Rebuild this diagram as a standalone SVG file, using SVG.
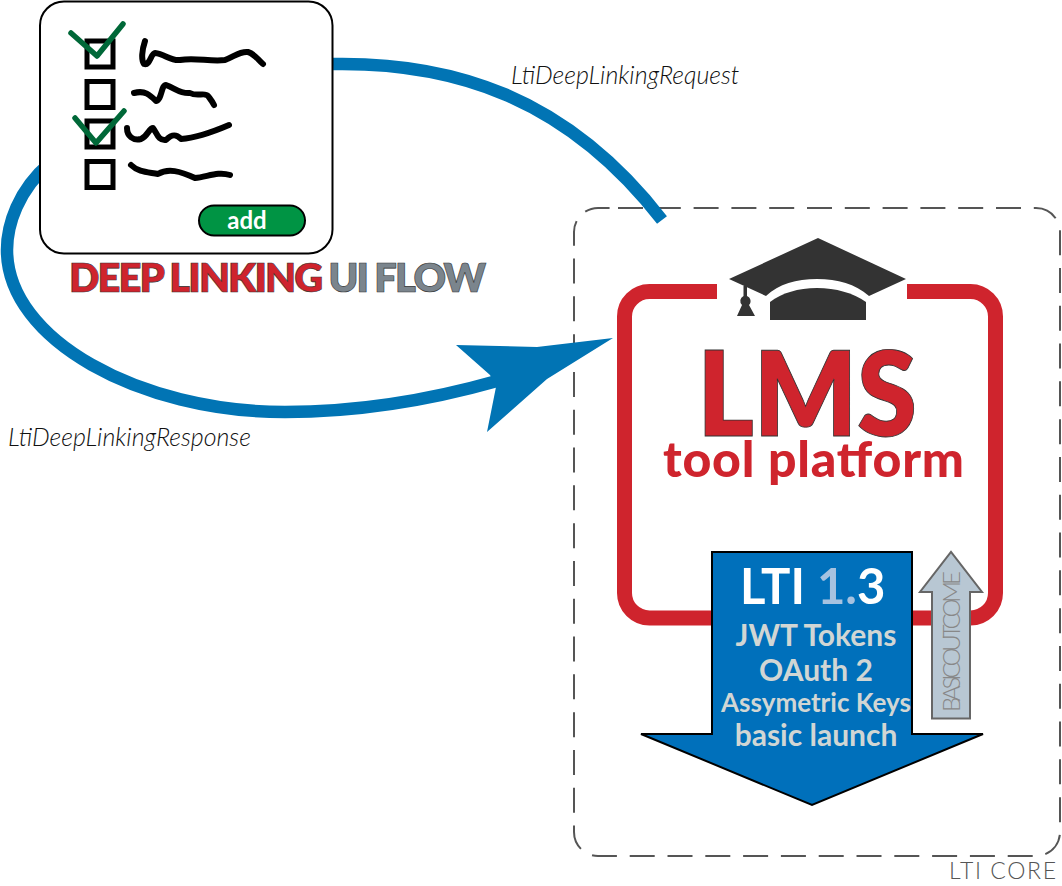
<svg xmlns="http://www.w3.org/2000/svg" width="1062" height="886" viewBox="0 0 1062 886">
<style>
text{font-family:Lato,"Liberation Sans",sans-serif}
.flow{fill:none;stroke:#0174b4;stroke-width:12.5}
.box{fill:none;stroke:#000;stroke-width:5}
.scr{fill:none;stroke:#000;stroke-width:6;stroke-linecap:round;stroke-linejoin:round}
.chk{fill:none;stroke:#006838;stroke-width:5.5;stroke-linecap:round;stroke-linejoin:round}
.lbl{font-size:25px;font-style:italic;font-weight:300;fill:#111}
.sub{fill:#d1d6d4;font-weight:700;text-anchor:middle}
</style>
<rect width="1062" height="886" fill="#fff"/>
<g id="lti-core">
<path d="M618 208H1036a24 24 0 0 1 24 24V832a24 24 0 0 1-24 24H598a24 24 0 0 1-24-24V232a24 24 0 0 1 24-24Z" fill="none" stroke="#555" stroke-width="2" stroke-dasharray="25 12.800"/>
<text x="949" y="879" font-size="23" font-weight="300" fill="#555" textLength="107">LTI CORE</text>
</g>
<g id="lms">
<path d="M717 291.500H649.500a25 25 0 0 0-25 25V593a25 25 0 0 0 25 25H970.500a25 25 0 0 0 25-25V316.500a25 25 0 0 0-25-25H907" fill="none" stroke="#cf242d" stroke-width="15"/>
<g fill="#333">
<path d="M818 238L906 279L869 296C855 284 838 279 817 279C796 279 779 284 766 296L729 279Z"/>
<path d="M770 302C782 293 798 288 817 288C836 288 853 293 866 302V320H770Z"/>
<path d="M743.500 286H747V296A5.500 5.500 0 0 1 749 305L755 316H737L742 305A5.500 5.500 0 0 1 743.500 296Z"/>
</g>
<text transform="translate(697.500 436) scale(1 1.09)" font-size="107.500" font-weight="800" fill="#cf242d" stroke="#333" stroke-width="0.8">LMS</text>
<text x="663" y="477" font-size="50" font-weight="900" fill="#cf242d" textLength="301">tool platform</text>
</g>
<g id="connectors">
<path class="flow" d="M333 64C450 62 565 95 662 220"/>
<path class="flow" d="M50 163C18 190 7 225 7 250C7 340 140 412 285 412C360 412 430 400 497 381"/>
<path fill="#0174b4" d="M456 345L537 347L613 338L547 379L487 432L496 387L490 375Z"/>
</g>
<g id="deep-linking-card">
<rect x="40" y="1.500" width="292.500" height="252" rx="24" fill="#fff" stroke="#000" stroke-width="2"/>
<rect class="box" x="87" y="41" width="26" height="26"/>
<rect class="box" x="87" y="81.500" width="26" height="26"/>
<rect class="box" x="87" y="121" width="26" height="26"/>
<rect class="box" x="87" y="161.500" width="26" height="26"/>
<path class="scr" d="M145 41C142 50 141 60 144 64C150 66 151 53 155 53C165 54 170 61 180 60C195 57 210 62 225 60C235 56 240 51 248 52C255 54 258 60 263 64"/>
<path class="scr" d="M134 93C145 90 150 95 156 101C162 100 161 85 166 85C175 88 180 94 190 93C197 97 205 92 208 96C211 100 212 101 214 105"/>
<path class="scr" d="M127 128C127 136 133 141 141 139C148 136 149 128 153 128C157 133 158 141 166 140C172 134 176 134 181 139C195 138 215 131 229 125"/>
<path class="scr" d="M131 165C138 172 148 172 158 174C168 168 180 171 195 178C207 177 218 171 230 175"/>
<path class="chk" d="M71 33L97 56L123 24"/>
<path class="chk" d="M75 118L96 143L124 111"/>
<rect x="199" y="205.500" width="106" height="30" rx="15" fill="#009444" stroke="#000" stroke-width="2"/>
<text x="247" y="229" font-size="24" font-weight="700" fill="#fff" text-anchor="middle">add</text>
</g>
<g id="deep-linking-title">
<text x="69" y="292" font-size="40" font-weight="800" stroke="#333" stroke-width="0.6" textLength="417"><tspan fill="#cf242d">DEEP LINKING</tspan><tspan fill="#7b858d"> UI FLOW</tspan></text>
</g>
<g id="lti-arrow">
<path d="M712 552H912V734H983L812 805L641 734H712Z" fill="#0070bb" stroke="#000" stroke-width="2"/>
<text x="740" y="604" font-size="49" font-weight="700" fill="#fff">LTI <tspan fill="#a6c2e0">1.</tspan>3</text>
<text class="sub" x="816" y="646" font-size="30">JWT Tokens</text>
<text class="sub" x="816" y="681" font-size="30">OAuth 2</text>
<text class="sub" x="816" y="712" font-size="26">Assymetric Keys</text>
<text class="sub" x="816" y="746" font-size="30">basic launch</text>
</g>
<g id="basicoutcome-arrow">
<path d="M932 718.500V592H920L951 552L982 592H970V718.500Z" fill="#b8c7d3" stroke="#666" stroke-width="2"/>
<text transform="translate(960 712) rotate(-90)" font-size="24" font-weight="300" fill="#888" textLength="141">BASICOUTCOME</text>
</g>
<g id="labels">
<text class="lbl" x="511" y="83.500">LtiDeepLinkingRequest</text>
<text class="lbl" x="8" y="446">LtiDeepLinkingResponse</text>
</g>
</svg>
